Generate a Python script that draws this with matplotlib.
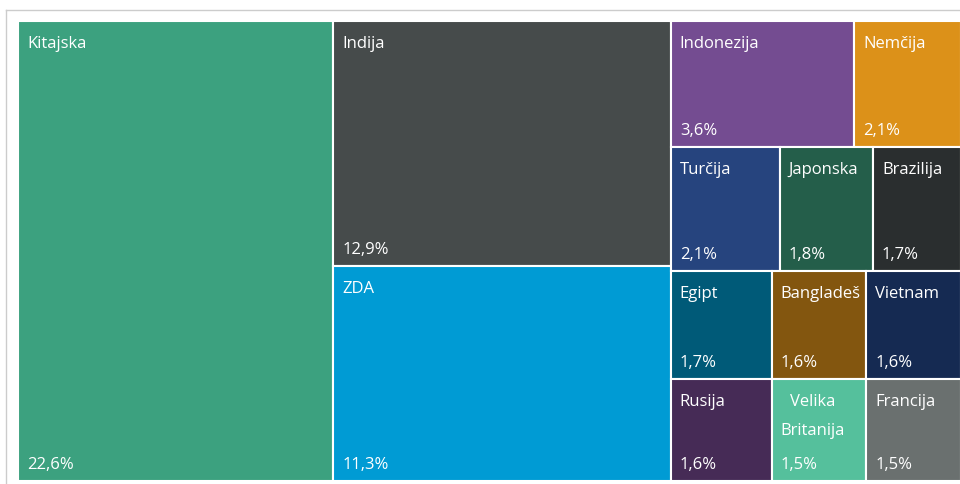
# Treemap of shares by country (values in %), drawn with plain matplotlib rectangles.

import matplotlib.pyplot as plt
from matplotlib.patches import Rectangle
from matplotlib.lines import Line2D

# names of the countries
names = ['Kitajska', 'Indija', 'ZDA', 'Indonezija', 'Nemčija', 'Turčija', 'Japonska',
         'Brazilija', 'Egipt', 'Bangladeš', 'Vietnam', 'Rusija', 'Velika\nBritanija', 'Francija']
# shares in percent
shares = [22.6, 12.9, 11.3, 3.6, 2.1, 2.1, 1.8, 1.7, 1.7, 1.6, 1.6, 1.6, 1.5, 1.5]
# colour of each tile
colors = ['#3ca17f', '#464b4b', '#009bd4', '#744c91', '#dc9119', '#26447e', '#245e4a',
          '#2a2e2f', '#005a78', '#83560f', '#152a52', '#462b56', '#55c09c', '#6a706f']

# layout groups: columns -> rows -> tile indices
columns = [[[0]], [[1], [2]], [[3, 4], [5, 6, 7], [8, 9, 10], [11, 12, 13]]]

plt.rcParams['font.family'] = ['Open Sans', 'DejaVu Sans']

fig = plt.figure(figsize=(9.6, 4.84), dpi=100)
ax = fig.add_axes([18 / 960, 3 / 484, 943 / 960, 460 / 484])
ax.set_xlim(0, 1)
ax.set_ylim(0, 1)
ax.axis('off')

total = sum(shares)
x0 = 0.0
for col in columns:
    col_sum = sum(shares[i] for row in col for i in row)
    w_col = col_sum / total
    y_top = 1.0
    for row in col:
        row_sum = sum(shares[i] for i in row)
        h_row = row_sum / col_sum
        x = x0
        for i in row:
            w = w_col * shares[i] / row_sum
            y = y_top - h_row
            ax.add_patch(Rectangle((x, y), w, h_row, facecolor=colors[i],
                                   edgecolor='white', linewidth=1.5))
            # name in the top left corner
            ax.annotate(names[i], (x, y_top), xytext=(6.5, -10.7), textcoords='offset points',
                        color='white', fontsize=12, ha='left', va='top',
                        multialignment='center', linespacing=2.1)
            # share at the bottom left
            ax.annotate(f'{shares[i]:.1f}%'.replace('.', ','), (x, y),
                        xytext=(6.5, 8.6), textcoords='offset points',
                        color='white', fontsize=12, ha='left', va='baseline')
            x += w
        y_top -= h_row
    x0 += w_col

# light frame around the chart
fig.add_artist(Line2D([6 / 960, 6 / 960], [0, 1 - 9.5 / 484], color='#cccccc', linewidth=1))
fig.add_artist(Line2D([6 / 960, 1], [1 - 9.5 / 484, 1 - 9.5 / 484], color='#cccccc', linewidth=1))

plt.savefig('out.png', dpi=100)
